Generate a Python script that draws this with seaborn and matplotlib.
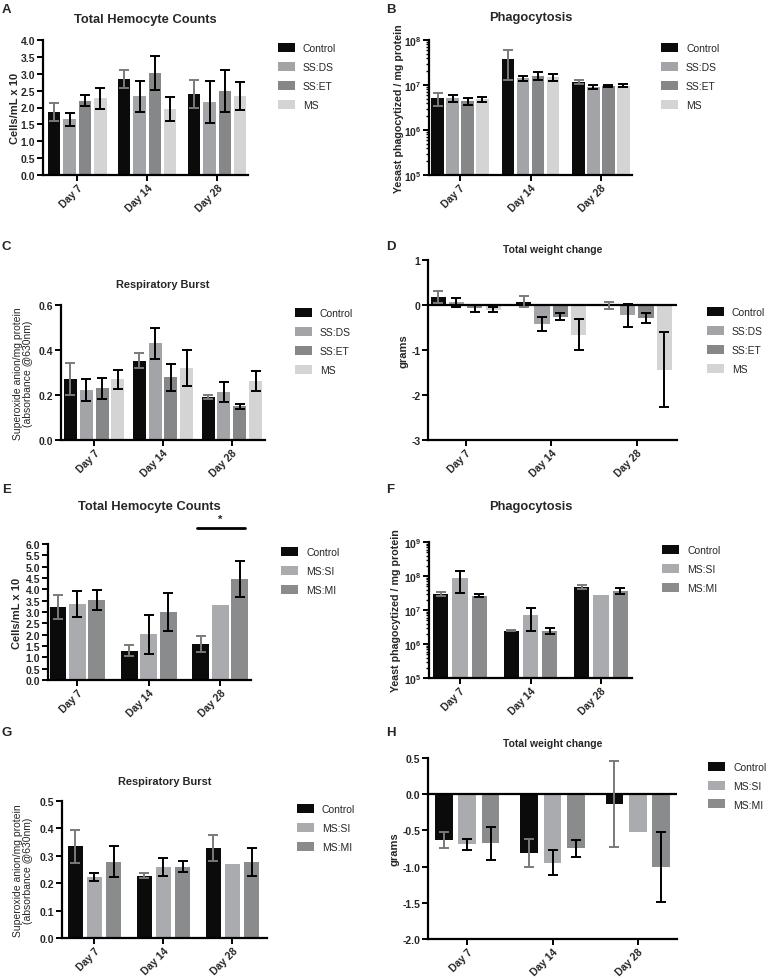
import matplotlib
matplotlib.use("Agg")
import matplotlib.pyplot as plt
import pandas as pd
import seaborn as sns
from matplotlib.ticker import FormatStrFormatter, MultipleLocator, LogLocator, NullFormatter

sns.set_theme(style="ticks")
plt.rcParams["font.family"] = ["Liberation Sans", "DejaVu Sans"]
plt.rcParams["font.weight"] = "bold"
plt.rcParams["mathtext.default"] = "regular"

W, H = 767, 978

days = ["Day 7", "Day 14", "Day 28"]
groups_ss = ["Control", "SS:DS", "SS:ET", "MS"]
groups_ms = ["Control", "MS:SI", "MS:MI"]
colors_ss = ["#0b0b0b", "#a2a4a8", "#858788", "#d4d4d4"]
colors_ms = ["#0b0b0b", "#a9abae", "#898b8c"]

# one list per group, one value per day
thc_ss_mean = [[1.87, 2.85, 2.40], [1.65, 2.33, 2.17], [2.20, 3.02, 2.48], [2.27, 1.95, 2.34]]
thc_ss_err = [[0.27, 0.26, 0.41], [0.19, 0.47, 0.63], [0.16, 0.51, 0.62], [0.30, 0.35, 0.42]]

phago_ss_mean = [[5.1e6, 3.7e7, 1.18e7], [5.05e6, 1.4e7, 9.1e6], [4.3e6, 1.58e7, 9.5e6], [4.8e6, 1.5e7, 9.6e6]]
phago_ss_err = [[1.7e6, 2.4e7, 1.1e6], [0.95e6, 2.0e6, 1.0e6], [0.73e6, 3.2e6, 0.3e6], [0.55e6, 2.6e6, 0.7e6]]

rb_ss_mean = [[0.270, 0.352, 0.192], [0.223, 0.429, 0.214], [0.229, 0.279, 0.149], [0.270, 0.318, 0.262]]
rb_ss_err = [[0.072, 0.034, 0.010], [0.048, 0.069, 0.043], [0.045, 0.061, 0.012], [0.043, 0.080, 0.044]]

wt_ss_mean = [[0.18, 0.07, -0.01], [0.06, -0.42, -0.23], [-0.07, -0.26, -0.29], [-0.11, -0.66, -1.44]]
wt_ss_err = [[0.13, 0.125, 0.085], [0.10, 0.16, 0.26], [0.08, 0.08, 0.12], [0.055, 0.35, 0.83]]

thc_ms_mean = [[3.21, 1.29, 1.57], [3.35, 2.01, 3.31], [3.54, 3.01, 4.46]]
thc_ms_err = [[0.53, 0.24, 0.35], [0.56, 0.87, 0.0], [0.43, 0.83, 0.79]]

phago_ms_mean = [[3.05e7, 2.45e6, 4.9e7], [8.6e7, 7.05e6, 2.85e7], [2.66e7, 2.45e6, 3.73e7]]
phago_ms_err = [[0.45e7, 0.1e6, 0.65e7], [5.4e7, 4.7e6, 0.0], [0.25e7, 0.5e6, 0.75e7]]

rb_ms_mean = [[0.334, 0.228, 0.328], [0.223, 0.260, 0.269], [0.279, 0.260, 0.278]]
rb_ms_err = [[0.061, 0.010, 0.048], [0.015, 0.032, 0.0], [0.056, 0.020, 0.050]]

wt_ms_mean = [[-0.63, -0.81, -0.135], [-0.69, -0.945, -0.527], [-0.68, -0.747, -1.005]]
wt_ms_err = [[0.11, 0.19, 0.59], [0.075, 0.17, 0.0], [0.23, 0.115, 0.48]]

fig = plt.figure(figsize=(W / 100, H / 100), dpi=100)


def make_axes(l, t, r, b):
    return fig.add_axes([l / W, 1 - b / H, (r - l) / W, (b - t) / H])


def draw_panel(ax, groups, colors, means, errs, width, gap, logy=False):
    rows = []
    for g, m in zip(groups, means):
        for d, v in zip(days, m):
            rows.append({"day": d, "group": g, "value": v})
    df = pd.DataFrame(rows)
    if logy:
        ax.set_yscale("log")
    sns.barplot(data=df, x="day", y="value", hue="group", order=days, hue_order=groups,
                palette=colors, saturation=1, errorbar=None, width=width, gap=gap,
                linewidth=0, ax=ax)
    bars = list(ax.containers)
    for i, cont in enumerate(bars):
        ecol = "#7a7a7a" if i == 0 else "black"
        for b, m, e in zip(cont, means[i], errs[i]):
            if e <= 0:
                continue
            x = b.get_x() + b.get_width() / 2
            ax.errorbar(x, m, yerr=e, fmt="none", ecolor=ecol, elinewidth=1.4,
                        capsize=3.5, capthick=1.4, zorder=4)
    for side in ["top", "right"]:
        ax.spines[side].set_visible(False)
    for side in ["left", "bottom"]:
        ax.spines[side].set_linewidth(1.6)
        ax.spines[side].set_color("black")
    ax.tick_params(axis="both", which="major", direction="out", width=1.4, length=4,
                   labelsize=7.5, color="black", pad=1.5)
    ax.tick_params(axis="y", which="minor", direction="out", width=1.0, length=2.5, color="black")
    ax.set_xlabel("")
    plt.setp(ax.get_xticklabels(), rotation=45, ha="right", rotation_mode="anchor")


def finish(ax, title, tsize, ty, ylabel, lx, ly, ylab_x, ylab_bold=True, ysize=8):
    ax.text(0.5, ty, title, transform=ax.transAxes, ha="center", va="center",
            fontsize=tsize, fontweight="bold")
    ax.set_ylabel(ylabel, fontsize=ysize, fontweight="bold" if ylab_bold else "normal",
                  linespacing=1.0)
    ax.yaxis.set_label_coords(ylab_x, 0.5)
    handles, labels = ax.get_legend_handles_labels()
    ax.legend(handles, labels, loc="upper left", bbox_to_anchor=(lx, ly), frameon=False,
              prop={"size": 7.5, "weight": "normal"}, handlelength=1.65, handleheight=0.95,
              labelspacing=0.85, handletextpad=0.75, borderpad=0, borderaxespad=0)


# A
ax = make_axes(43, 41, 248, 176)
draw_panel(ax, groups_ss, colors_ss, thc_ss_mean, thc_ss_err, 0.88, 0.2)
ax.set_ylim(0, 4)
ax.set_xlim(-0.49, 2.44)
ax.yaxis.set_major_locator(MultipleLocator(0.5))
ax.yaxis.set_major_formatter(FormatStrFormatter("%.1f"))
finish(ax, "Total Hemocyte Counts", 9.3, 1.156, "Cells/mL x 10", 1.146, 0.975, -0.112)

# B
ax = make_axes(429, 41, 632, 176)
draw_panel(ax, groups_ss, colors_ss, phago_ss_mean, phago_ss_err, 0.85, 0.18, logy=True)
ax.set_ylim(1e5, 1e8)
ax.set_xlim(-0.44, 2.44)
ax.yaxis.set_major_locator(LogLocator(base=10, numticks=10))
ax.yaxis.set_minor_locator(LogLocator(base=10, subs=range(2, 10), numticks=20))
ax.yaxis.set_minor_formatter(NullFormatter())
finish(ax, "Phagocytosis", 9.3, 1.17, "Yesast phagocytized / mg protein", 1.143, 0.975, -0.123,
       ysize=7.7)

# C
ax = make_axes(61, 306, 265, 441)
draw_panel(ax, groups_ss, colors_ss, rb_ss_mean, rb_ss_err, 0.92, 0.18)
ax.set_ylim(0, 0.6)
ax.set_xlim(-0.48, 2.48)
ax.yaxis.set_major_locator(MultipleLocator(0.2))
ax.yaxis.set_major_formatter(FormatStrFormatter("%.1f"))
finish(ax, "Respiratory Burst", 7.9, 1.156,
       "Superoxide anion/mg protein\n(absorbance @630nm)", 1.147, 0.975, -0.137,
       ylab_bold=False, ysize=7.5)

# D
ax = make_axes(428, 261, 677, 441)
draw_panel(ax, groups_ss, colors_ss, wt_ss_mean, wt_ss_err, 0.86, 0.18)
ax.axhline(0, color="black", lw=1.6, zorder=3)
ax.set_ylim(-3, 1)
ax.set_xlim(-0.44, 2.47)
ax.yaxis.set_major_locator(MultipleLocator(1))
ax.yaxis.set_major_formatter(FormatStrFormatter("%d"))
finish(ax, "Total weight change", 7.5, 1.061, "grams", 1.12, 0.74, -0.08)

# E
ax = make_axes(48, 545, 251, 681)
draw_panel(ax, groups_ms, colors_ms, thc_ms_mean, thc_ms_err, 0.81, 0.12)
ax.set_ylim(0, 6)
ax.set_xlim(-0.41, 2.43)
ax.yaxis.set_major_locator(MultipleLocator(0.5))
ax.yaxis.set_major_formatter(FormatStrFormatter("%.1f"))
ax.plot([1.68, 2.34], [6.7, 6.7], color="black", lw=2, clip_on=False)
ax.text(2.0, 6.9, "*", ha="center", va="bottom", fontsize=8)
finish(ax, "Total Hemocyte Counts", 9.3, 1.279, "Cells/mL x 10", 1.148, 0.975, -0.128)

# F
ax = make_axes(429, 543, 632, 679)
draw_panel(ax, groups_ms, colors_ms, phago_ms_mean, phago_ms_err, 0.81, 0.21, logy=True)
ax.set_ylim(1e5, 1e9)
ax.set_xlim(-0.44, 2.44)
ax.yaxis.set_major_locator(LogLocator(base=10, numticks=10))
ax.yaxis.set_minor_locator(LogLocator(base=10, subs=range(2, 10), numticks=20))
ax.yaxis.set_minor_formatter(NullFormatter())
finish(ax, "Phagocytosis", 9.3, 1.265, "Yeast phagocytized / mg protein", 1.148, 0.975, -0.138,
       ysize=7.7)

# G
ax = make_axes(62, 802, 267, 939)
draw_panel(ax, groups_ms, colors_ms, rb_ms_mean, rb_ms_err, 0.83, 0.24)
ax.set_ylim(0, 0.5)
ax.set_xlim(-0.47, 2.5)
ax.yaxis.set_major_locator(MultipleLocator(0.1))
ax.yaxis.set_major_formatter(FormatStrFormatter("%.1f"))
finish(ax, "Respiratory Burst", 7.9, 1.146,
       "Superoxide anion/mg protein\n(absorbance @630nm)", 1.146, 0.975, -0.141,
       ylab_bold=False, ysize=7.5)

# H
ax = make_axes(428, 759, 677, 940)
draw_panel(ax, groups_ms, colors_ms, wt_ms_mean, wt_ms_err, 0.82, 0.24)
ax.axhline(0, color="black", lw=1.6, zorder=3)
ax.set_ylim(-2, 0.5)
ax.set_xlim(-0.46, 2.46)
ax.yaxis.set_major_locator(MultipleLocator(0.5))
ax.yaxis.set_major_formatter(FormatStrFormatter("%.1f"))
finish(ax, "Total weight change", 7.5, 1.083, "grams", 1.125, 0.98, -0.116)

# panel letters
for letter, (px, py) in zip("ABCDEFGH", [(2, 10), (386, 10), (2, 247), (386, 247),
                                         (2, 490), (386, 490), (2, 733), (386, 733)]):
    fig.text(px / W, 1 - py / H, letter, fontsize=9.5, fontweight="bold", ha="left", va="center")

fig.savefig("out.png", dpi=100)
plt.close(fig)
